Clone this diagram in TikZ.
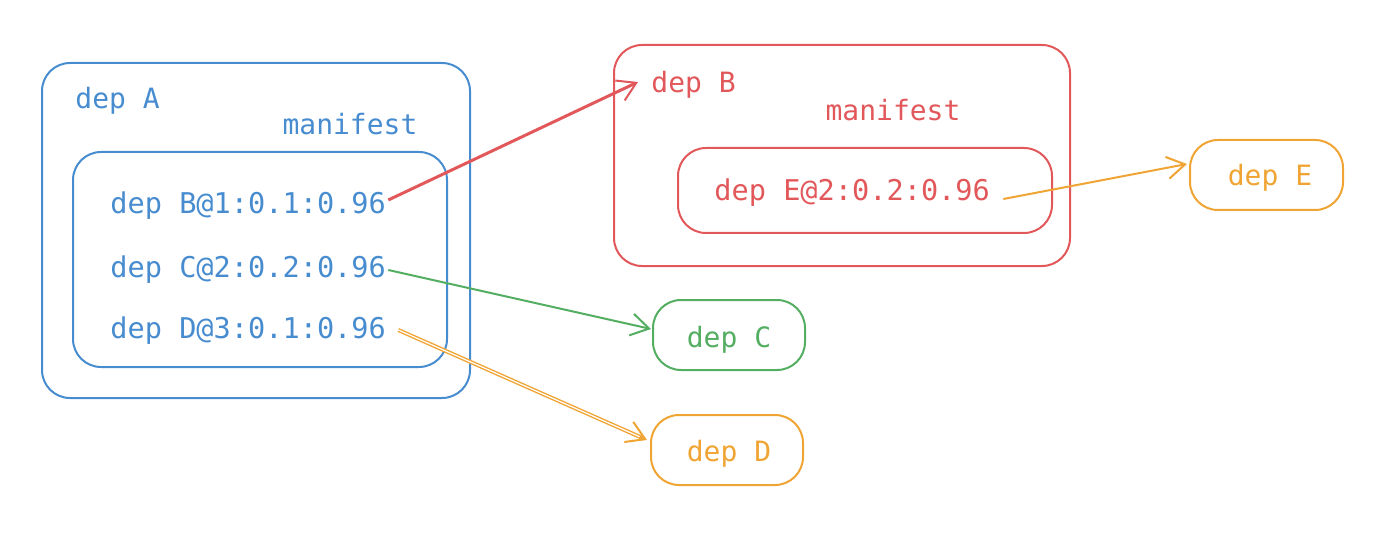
\documentclass[tikz,border=0pt]{standalone}
\usepackage{fontspec}
\setmonofont{DejaVu Sans Mono}
\usetikzlibrary{arrows.meta,calc}
\definecolor{cblue}{RGB}{72,140,208}
\definecolor{cred}{RGB}{226,88,90}
\definecolor{cgreen}{RGB}{84,174,98}
\definecolor{corange}{RGB}{240,164,52}
\begin{document}
\begin{tikzpicture}[x=0.5pt,y=-0.5pt,
 box/.style={draw=#1, line width=1pt, rounded corners=14pt, inner sep=0pt},
 lbl/.style={text=#1, font=\ttfamily\fontsize{14}{16}\selectfont, inner sep=0pt},
 item/.style={text=#1, font=\ttfamily\fontsize{14.3}{17}\selectfont, inner sep=0pt, anchor=west},
 conn/.style={draw=#1, line width=1pt, -{Straight Barb[length=9pt,width=11pt,line width=1pt]}}]
\useasboundingbox (0,0) rectangle (1396,534);
% dep A
\node[box=cblue, minimum width=214pt, minimum height=167.5pt] (A) at (256,230.5) {};
\node[box=cblue, minimum width=187pt, minimum height=107.5pt] (Am) at (260,259.5) {};
\node[lbl=cblue, anchor=west] (tA) at (75,101) {dep A};
\node[lbl=cblue] (mA) at (350,124) {manifest};
\node[item=cblue] (lB) at (110,206) {dep B@1:0.1:0.96};
\node[item=cblue] (lC) at (110,270) {dep C@2:0.2:0.96};
\node[item=cblue] (lD) at (110,331) {dep D@3:0.1:0.96};
% dep B
\node[box=cred, minimum width=228pt, minimum height=110.5pt] (B) at (842,155.5) {};
\node[box=cred, minimum width=187pt, minimum height=42.5pt] (Bm) at (865,190.5) {};
\node[lbl=cred, anchor=west] (tB) at (651,85) {dep B};
\node[lbl=cred] (mB) at (893,110) {manifest};
\node[item=cred] (lE) at (714,193) {dep E@2:0.2:0.96};
% leaves
\node[box=corange, minimum width=76.5pt, minimum height=35pt] (E) at (1266.5,175) {};
\node[lbl=corange] (tE) at (1270,178) {dep E};
\node[box=cgreen, minimum width=76pt, minimum height=35pt] (C) at (729,335) {};
\node[lbl=cgreen] (tC) at (729,340) {dep C};
\node[box=corange, minimum width=76pt, minimum height=35pt] (D) at (727,450) {};
\node[lbl=corange] (tD) at (729,454) {dep D};
% connectors
\draw[conn=cred, line width=1.5pt] ($(lB.east)+(2,-6)$) -- ($(tB.west)+(-13,-3)$);
\draw[conn=cgreen] ($(lC.east)+(2,0)$) -- ($(C.west)+(-1,-6)$);
\coordinate (dS) at ($(lD.east)+(12,-1)$);
\coordinate (dE) at ($(D.west)+(-3,-10)$);
\draw[corange, line width=0.7pt, double=white, double distance=0.6pt] (dS) -- ($(dE)!3pt!(dS)$);
\draw[conn=corange] ($(dE)!4pt!(dS)$) -- (dE);
\draw[conn=corange] ($(lE.east)+(13,6)$) -- ($(E.west)+(-2,-11)$);
\end{tikzpicture}
\end{document}
